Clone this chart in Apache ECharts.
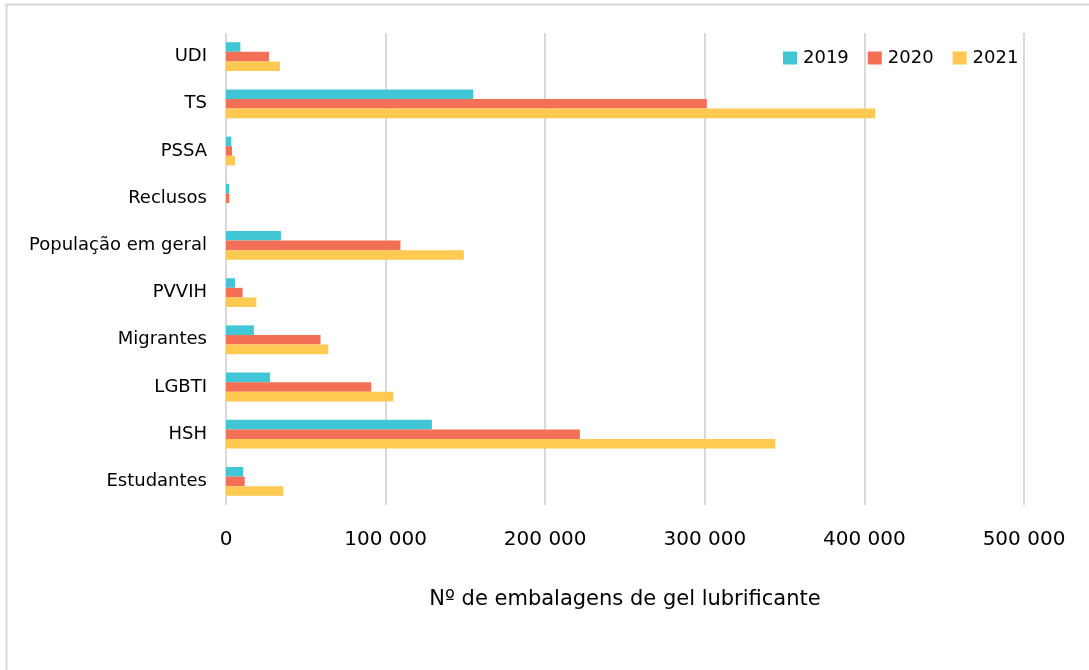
<!DOCTYPE html>
<html>
<head>
<meta charset="utf-8">
<style>
html,body{margin:0;padding:0;background:#fff;}
#chart{width:1089px;height:670px;}
</style>
<script src="https://cdn.jsdelivr.net/npm/echarts@6/dist/echarts.min.js"></script>
</head>
<body>
<div id="chart"></div>
<script>
// Categories, top to bottom
const categories = ['UDI', 'TS', 'PSSA', 'Reclusos', 'População em geral', 'PVVIH', 'Migrantes', 'LGBTI', 'HSH', 'Estudantes'];
const seriesNames = ['2019', '2020', '2021'];
const values2019 = [9000, 154900, 3300, 2000, 34400, 5600, 17500, 27600, 129000, 10800];
const values2020 = [26900, 301300, 3800, 2000, 109300, 10400, 59200, 91000, 221700, 11700];
const values2021 = [33800, 406800, 5600, 0, 149000, 19000, 64100, 104800, 344100, 35900];
const xTicks = [0, 100000, 200000, 300000, 400000, 500000];
const axisTitle = 'Nº de embalagens de gel lubrificante';
const colors = ['#40C6D4', '#F36F55', '#FFC952'];

const chart = echarts.init(document.getElementById('chart'), null, {renderer: 'canvas'});
const font = 'DejaVu Sans, Verdana, sans-serif';
const fmt = v => String(v).replace(/\B(?=(\d{3})+(?!\d))/g, ' ');

const allValues = [values2019, values2020, values2021];
chart.setOption({
  animation: false,
  backgroundColor: '#fff',
  color: colors,
  graphic: [{
    type: 'rect',
    shape: {x: 6.5, y: 4.5, width: 1200, height: 800},
    style: {fill: 'none', stroke: '#d9d9d9', lineWidth: 2},
    silent: true, z: -1
  }],
  legend: {
    left: 778, top: 44,
    itemWidth: 14, itemHeight: 13, itemGap: 19,
    icon: 'rect',
    textStyle: {fontFamily: font, fontSize: 18, color: '#000', padding: [0, 0, 0, 1]},
    data: seriesNames
  },
  grid: {left: 226, right: 65, top: 33, bottom: 165, containLabel: false},
  xAxis: {
    type: 'value',
    min: xTicks[0], max: xTicks[xTicks.length - 1], interval: 100000,
    axisLine: {show: false},
    axisTick: {show: false},
    splitLine: {show: true, lineStyle: {color: '#d9d9d9', width: 2}},
    axisLabel: {fontFamily: font, fontSize: 20, color: '#000', margin: 25, formatter: fmt},
    name: axisTitle,
    nameLocation: 'middle',
    nameGap: 84,
    nameTextStyle: {fontFamily: font, fontSize: 21, color: '#000'}
  },
  yAxis: {
    type: 'category',
    inverse: true,
    data: categories,
    axisLine: {show: false},
    axisTick: {show: false},
    axisLabel: {fontFamily: font, fontSize: 18, color: '#000', margin: 19}
  },
  series: seriesNames.map((n, i) => ({
    name: n,
    type: 'bar',
    data: allValues[i],
    barWidth: 9.6,
    barGap: '0%',
    itemStyle: {color: colors[i]}
  }))
});
</script>
</body>
</html>
